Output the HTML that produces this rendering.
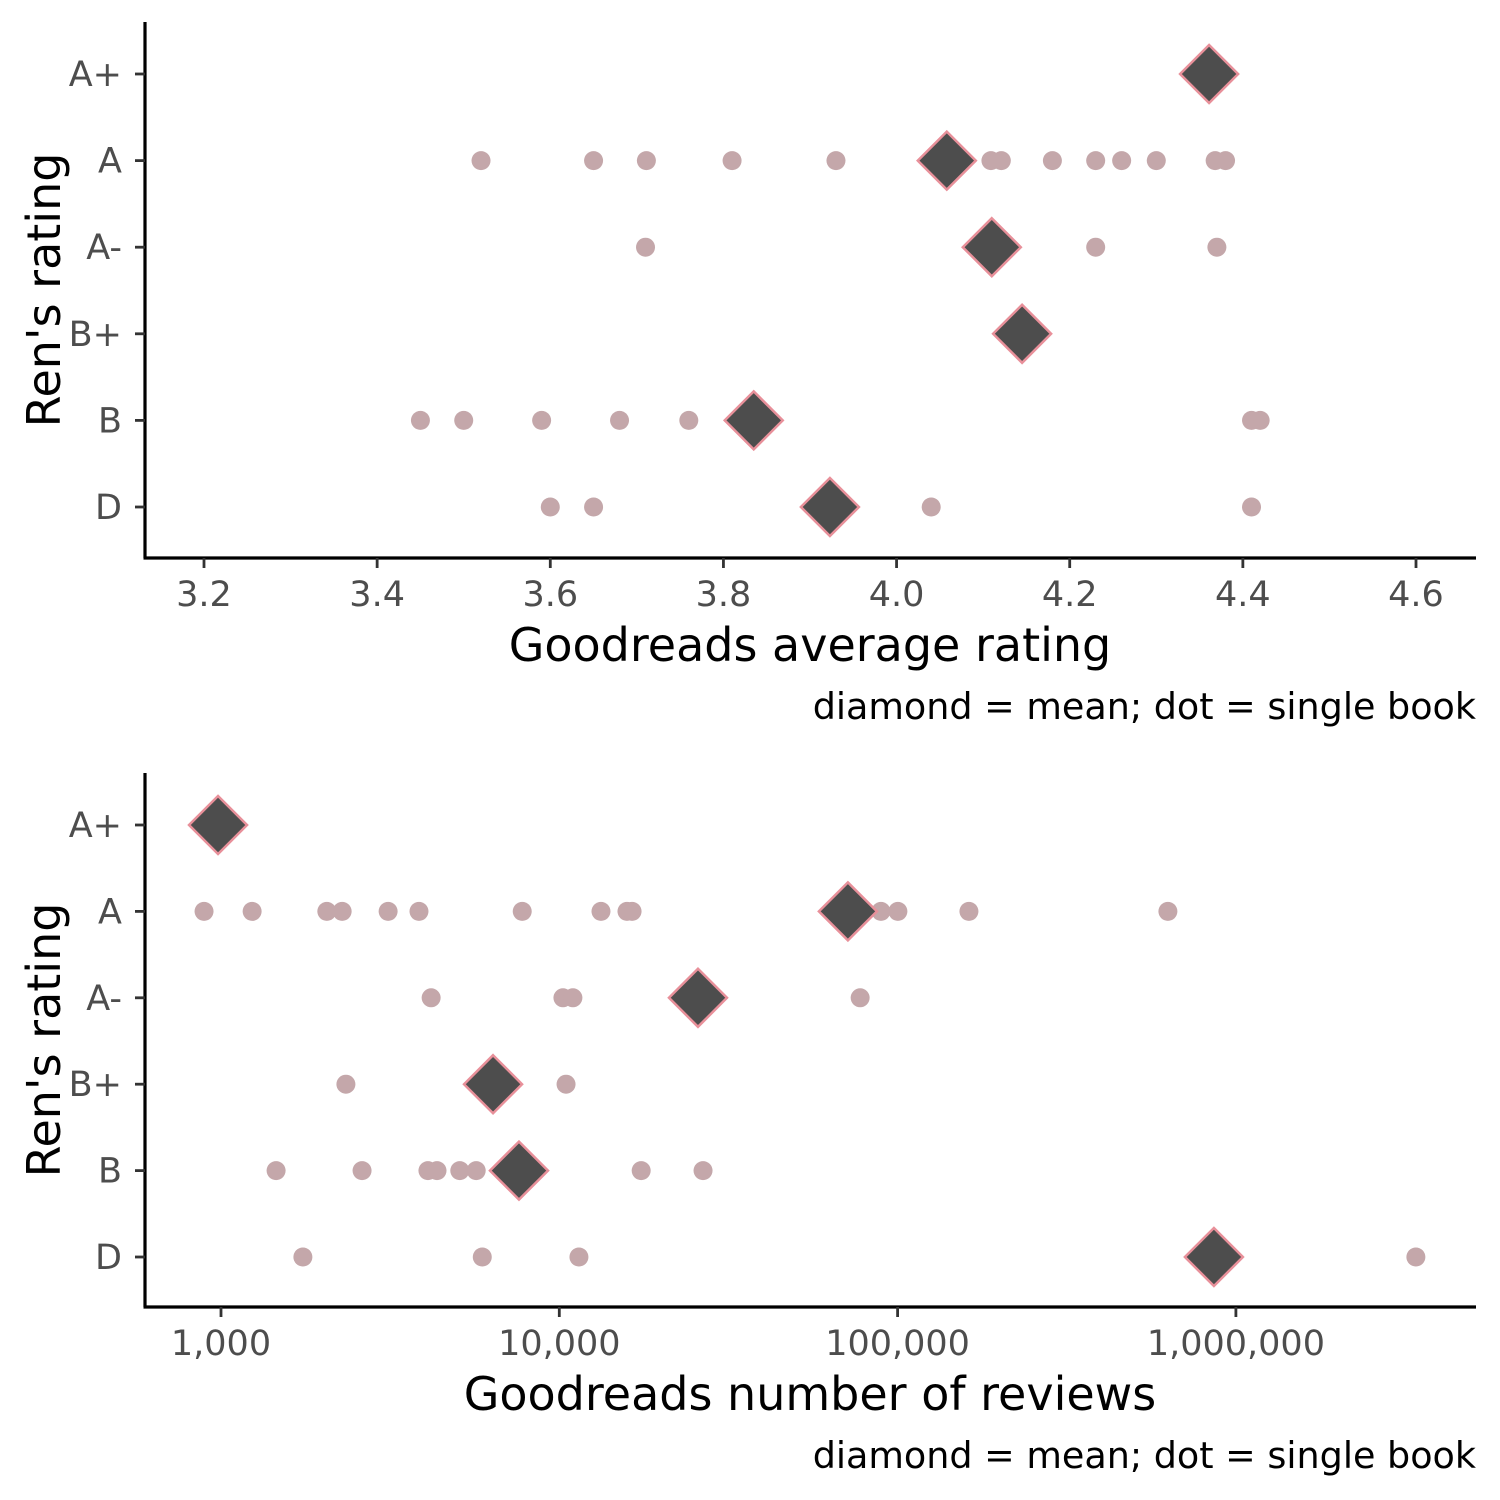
<!DOCTYPE html>
<html><head><meta charset="utf-8"><style>
html,body{margin:0;padding:0;background:#fff}
svg{display:block;font-family:"DejaVu Sans","Liberation Sans",sans-serif}
</style></head><body>
<svg id="chart" width="1500" height="1500" viewBox="0 0 1500 1500" xmlns="http://www.w3.org/2000/svg"></svg>
<script>
const categories = ["A+","A","A-","B+","B","D"];
// Top panel: Goodreads average rating
const ratingDotsAp = [];
const ratingDotsA = [3.52,3.65,3.711,3.81,3.93,4.109,4.121,4.18,4.23,4.26,4.30,4.368,4.38];
const ratingDotsAm = [3.71,4.23,4.37];
const ratingDotsBp = [];
const ratingDotsB = [3.45,3.50,3.59,3.68,3.76,4.41,4.42];
const ratingDotsD = [3.60,3.65,4.04,4.41];
const ratingMeans = [4.361,4.058,4.11,4.145,3.835,3.923];
const ratingTicks = [3.2,3.4,3.6,3.8,4.0,4.2,4.4,4.6];
// Bottom panel: number of reviews
const reviewDotsAp = [];
const reviewDotsA = [891,1236,2055,2281,3119,3848,7770,13280,15850,16410,89300,100200,162500,629500];
const reviewDotsAm = [4180,10250,10970,77500];
const reviewDotsBp = [2340,10470];
const reviewDotsB = [1455,2612,4090,4350,5080,5680,17460,26600];
const reviewDotsD = [1746,5920,11430,3404000];
const reviewMeans = [980,71300,25700,6370,7600,861000];
const reviewTicks = [1000,10000,100000,1000000];
const reviewTickLabels = ["1,000","10,000","100,000","1,000,000"];

const NS="http://www.w3.org/2000/svg";
const svg=document.getElementById('chart');
function mk(tag,attrs,parent,text){const e=document.createElementNS(NS,tag);for(const k in attrs)e.setAttribute(k,attrs[k]);if(text!==undefined)e.textContent=text;(parent||svg).appendChild(e);return e;}

function panel(cfg){
  const g=mk('g',{});
  
  
  const x=cfg.x, y=(i)=>cfg.y0+i*cfg.dy;
  const ya=mk('line',{x1:145,x2:145,y1:cfg.top,y2:cfg.bottom,stroke:'#000','stroke-width':3.2},g);
  
  
  const xa=mk('line',{x1:143.5,x2:1476,y1:cfg.bottom,y2:cfg.bottom,stroke:'#000','stroke-width':3.2},g);
  
  
  categories.forEach((c,i)=>{
    mk('line',{x1:135,x2:145,y1:y(i),y2:y(i),stroke:'#333','stroke-width':2.8},g);
    const t=mk('text',{x:122,y:y(i)+12,'text-anchor':'end','font-size':35,fill:'#4d4d4d'},g,c);
    
    
  });
  cfg.ticks.forEach((v,i)=>{
    const px=x(v);
    mk('line',{x1:px,x2:px,y1:cfg.bottom,y2:cfg.bottom+10,stroke:'#333','stroke-width':2.8},g);
    const t=mk('text',{x:px,y:cfg.bottom+48,'text-anchor':'middle','font-size':35,fill:'#4d4d4d'},g,cfg.tickLabels[i]);
    
    
  });
  cfg.dots.forEach((arr,i)=>arr.forEach(v=>{
    const d=mk('circle',{cx:x(v),cy:y(i),r:9.5,fill:'#c4a7aa'},g);
    
    
  }));
  cfg.means.forEach((v,i)=>{
    const cx=x(v),cy=y(i),s=29;
    const p=mk('polygon',{points:`${cx},${cy-s} ${cx+s},${cy} ${cx},${cy+s} ${cx-s},${cy}`,fill:'#4d4d4d',stroke:'#e8909a','stroke-width':2.5},g);
    
    
  });
  const yt=mk('text',{x:0,y:0,transform:`translate(60,${(cfg.top+cfg.bottom)/2}) rotate(-90)`,'text-anchor':'middle','font-size':46,fill:'#000'},g,"Ren's rating");
  
  
  const xt=mk('text',{x:810,y:cfg.bottom+103,'text-anchor':'middle','font-size':46,fill:'#000'},g,cfg.title);
  
  
  const cap=mk('text',{x:1476,y:cfg.bottom+161,'text-anchor':'end','font-size':36.5,fill:'#000'},g,'diamond = mean; dot = single book');
  
  
}

const xTop=v=>204+(v-3.2)*(1416-204)/1.4;
panel({name:'rating-panel',x:xTop,y0:74,dy:86.6,top:22,bottom:558,ticks:ratingTicks,
  tickLabels:ratingTicks.map(v=>v.toFixed(1)),
  dots:[ratingDotsAp,ratingDotsA,ratingDotsAm,ratingDotsBp,ratingDotsB,ratingDotsD],
  means:ratingMeans,title:'Goodreads average rating'});

const xBot=v=>221+(Math.log10(v)-3)*338.3;
panel({name:'reviews-panel',x:xBot,y0:825,dy:86.4,top:773,bottom:1307,ticks:reviewTicks,
  tickLabels:reviewTickLabels,
  dots:[reviewDotsAp,reviewDotsA,reviewDotsAm,reviewDotsBp,reviewDotsB,reviewDotsD],
  means:reviewMeans,title:'Goodreads number of reviews'});
</script>
</body></html>
